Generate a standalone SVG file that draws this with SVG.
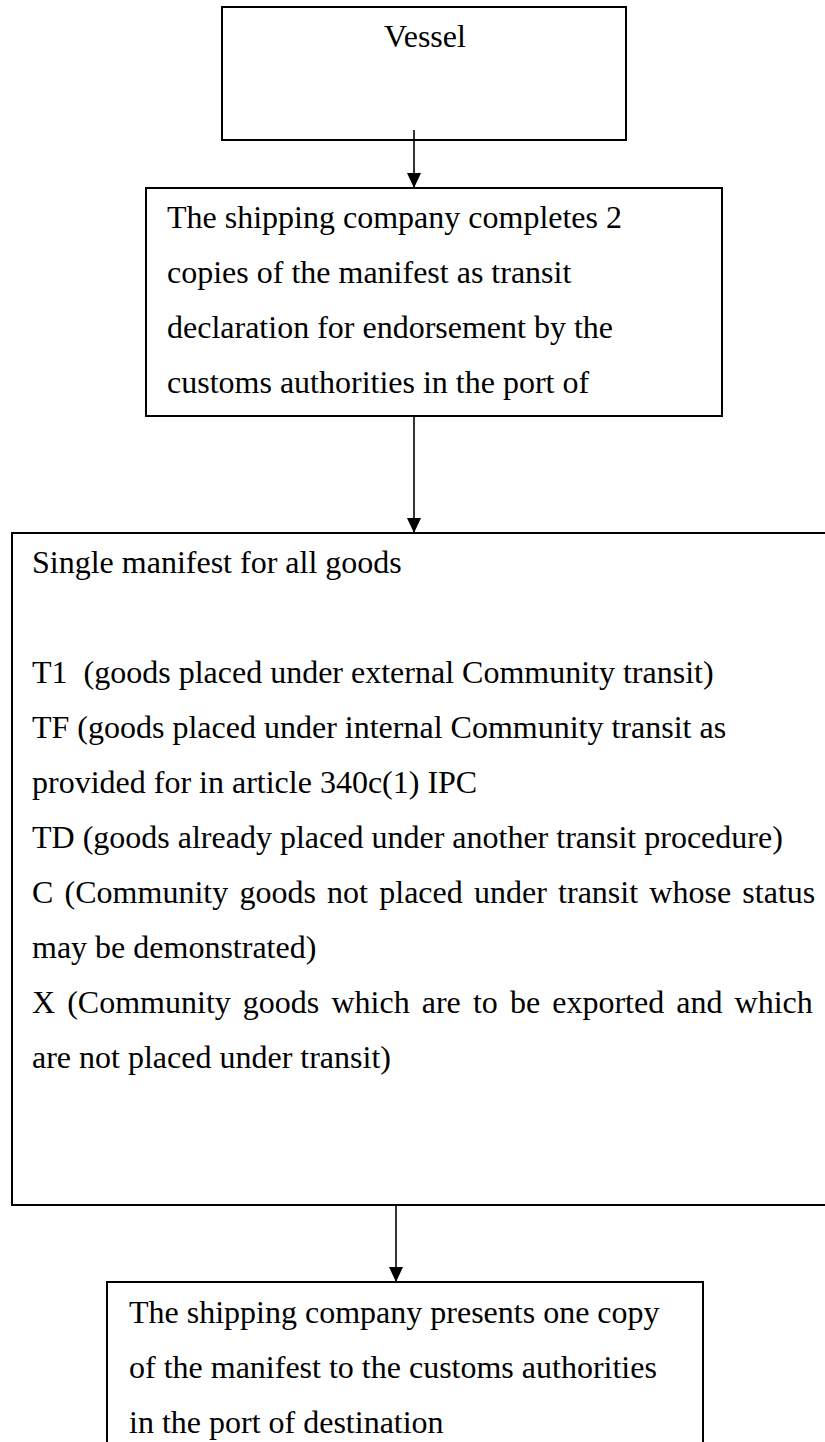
<svg xmlns="http://www.w3.org/2000/svg" width="825" height="1442" viewBox="0 0 825 1442">
<style>
.box{fill:#fff;stroke:#000;stroke-width:2}
.t{font-family:"Liberation Serif","Times New Roman",serif;font-size:32px;fill:#000}
.conn{stroke:#000;stroke-width:1.6;fill:none}
</style>
<defs>
<marker id="ah" markerUnits="userSpaceOnUse" markerWidth="16" markerHeight="16" refX="15" refY="7" orient="auto">
<path d="M0,0 L15,7 L0,14 Z" fill="#000"/>
</marker>
</defs>
<rect width="825" height="1442" fill="#fff"/>
<g id="n1">
<rect class="box" x="222" y="7" width="404" height="133"/>
<text class="t" x="425" y="47" text-anchor="middle">Vessel</text>
</g>
<g id="n2">
<rect class="box" x="146" y="188" width="576" height="228"/>
<text class="t" x="167" y="228">The shipping company completes 2</text>
<text class="t" x="167" y="283">copies of the manifest as transit</text>
<text class="t" x="167" y="338">declaration for endorsement by the</text>
<text class="t" x="167" y="393">customs authorities in the port of</text>
</g>
<g id="n3">
<rect class="box" x="12" y="533" width="830" height="672"/>
<text class="t" x="32" y="573">Single manifest for all goods</text>
<text class="t" x="32" y="683" style="white-space:pre">T1  (goods placed under external Community transit)</text>
<text class="t" x="32" y="738">TF (goods placed under internal Community transit as</text>
<text class="t" x="32" y="793">provided for in article 340c(1) IPC</text>
<text class="t" x="32" y="848">TD (goods already placed under another transit procedure)</text>
<text class="t" x="32" y="903" word-spacing="3.25">C (Community goods not placed under transit whose status</text>
<text class="t" x="32" y="958">may be demonstrated)</text>
<text class="t" x="32" y="1013" word-spacing="4.1">X (Community goods which are to be exported and which</text>
<text class="t" x="32" y="1068">are not placed under transit)</text>
</g>
<g id="n4">
<rect class="box" x="107" y="1282" width="596" height="200"/>
<text class="t" x="129" y="1323">The shipping company presents one copy</text>
<text class="t" x="129" y="1378">of the manifest to the customs authorities</text>
<text class="t" x="129" y="1433">in the port of destination</text>
</g>
<g id="connectors">
<line class="conn" x1="414" y1="130" x2="414" y2="188" marker-end="url(#ah)"/>
<line class="conn" x1="414" y1="417" x2="414" y2="533" marker-end="url(#ah)"/>
<line class="conn" x1="396" y1="1206" x2="396" y2="1282" marker-end="url(#ah)"/>
</g>
</svg>
